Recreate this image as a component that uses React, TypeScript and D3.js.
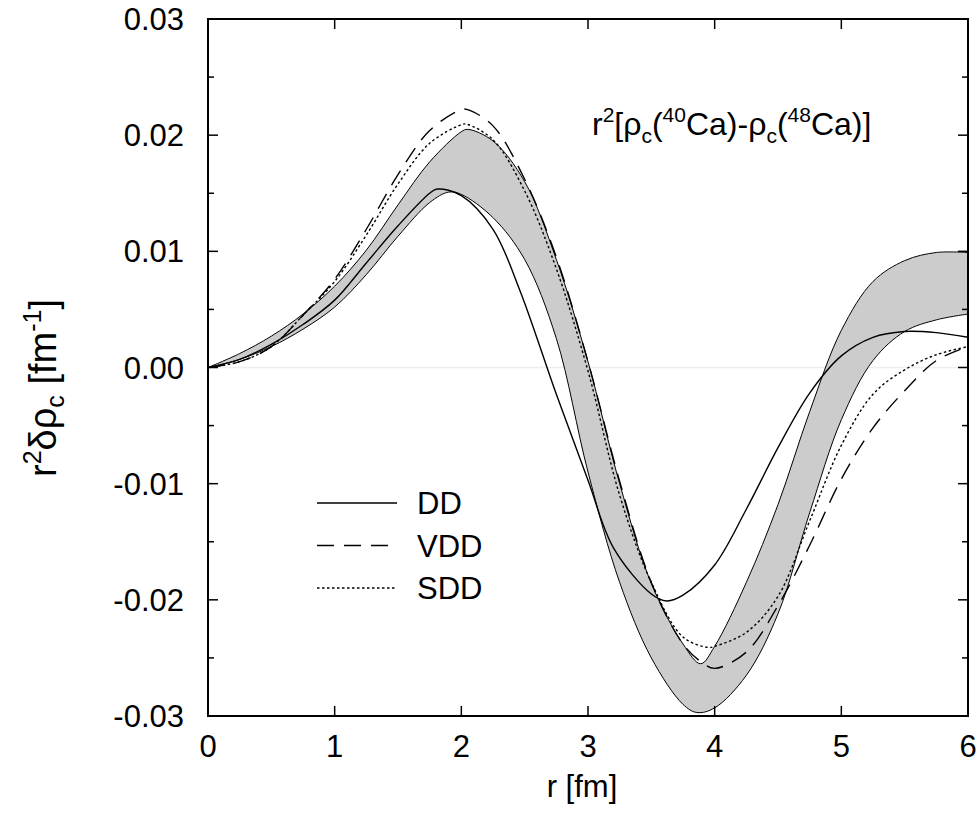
import React from "react";
import * as d3 from "d3";

const W = 979, H = 817;
const margin = { left: 208, right: 11, top: 19, bottom: 101 };

// radius samples (fm) and curve values
const rBand = [0, 0.25, 0.5, 0.75, 1, 1.25, 1.5, 1.75, 2, 2.05, 2.25, 2.5, 2.75, 3, 3.25, 3.5, 3.75, 3.89, 4, 4.25, 4.5, 4.75, 5, 5.25, 5.5, 5.75, 6];
const bandUpper = [0, 0.0012, 0.0027, 0.0046, 0.0070, 0.0101, 0.0140, 0.0177, 0.0203, 0.0205, 0.0195, 0.0160, 0.0093, 0.0005, -0.0100, -0.0186, -0.0238, -0.0255, -0.0240, -0.0185, -0.0118, -0.0038, 0.0032, 0.0074, 0.0092, 0.0099, 0.0099];
const rLow = [0, 0.25, 0.5, 0.75, 1, 1.25, 1.5, 1.75, 1.9, 2, 2.25, 2.5, 2.75, 3, 3.25, 3.5, 3.75, 3.86, 4, 4.25, 4.5, 4.75, 5, 5.25, 5.5, 5.75, 6];
const bandLower = [0, 0.0007, 0.0018, 0.0033, 0.0052, 0.0080, 0.0113, 0.0142, 0.0151, 0.0149, 0.0129, 0.0093, 0.0025, -0.0090, -0.0185, -0.0250, -0.0290, -0.0297, -0.0293, -0.0265, -0.0212, -0.0125, -0.0045, 0.0006, 0.0031, 0.0041, 0.0046];

const rDD = [0, 0.25, 0.5, 0.75, 1, 1.25, 1.5, 1.75, 1.81, 2, 2.25, 2.46, 2.75, 3, 3.2, 3.5, 3.62, 3.75, 4, 4.25, 4.5, 4.75, 5, 5.25, 5.5, 5.75, 6];
const dd = [0, 0.0007, 0.0020, 0.0037, 0.0058, 0.0090, 0.0122, 0.0150, 0.01536, 0.0148, 0.0119, 0.0067, -0.0023, -0.0097, -0.0155, -0.0195, -0.0201, -0.0196, -0.0170, -0.0122, -0.0069, -0.0022, 0.0010, 0.0026, 0.0031, 0.0030, 0.0026];

const rVDD = [0, 0.25, 0.5, 0.75, 1, 1.25, 1.5, 1.75, 2, 2.05, 2.25, 2.5, 2.75, 3, 3.25, 3.5, 3.75, 3.9, 4, 4.25, 4.5, 4.75, 5, 5.25, 5.5, 5.75, 6];
const vdd = [0, 0.0005, 0.0018, 0.0045, 0.0076, 0.0119, 0.0166, 0.0204, 0.0222, 0.0222, 0.0208, 0.0162, 0.0095, 0.0005, -0.0098, -0.0185, -0.0238, -0.0254, -0.0259, -0.0245, -0.0205, -0.0153, -0.0096, -0.0052, -0.0020, 0.0006, 0.0018];

const rSDD = [0, 0.25, 0.5, 0.75, 1, 1.25, 1.5, 1.75, 2, 2.04, 2.25, 2.5, 2.75, 3, 3.25, 3.5, 3.75, 3.95, 4, 4.25, 4.5, 4.75, 5, 5.25, 5.5, 5.75, 6];
const sdd = [0, 0.0005, 0.0018, 0.0045, 0.0074, 0.0114, 0.0158, 0.0193, 0.0209, 0.02095, 0.0196, 0.0152, 0.0085, -0.0003, -0.0110, -0.0185, -0.0232, -0.0241, -0.0240, -0.0228, -0.0197, -0.0132, -0.0067, -0.0023, -0.0002, 0.0011, 0.0018];

const xTicks = [0, 1, 2, 3, 4, 5, 6];
const yTicks = [0.03, 0.02, 0.01, 0, -0.01, -0.02, -0.03];
const yMinor = [0.025, 0.015, 0.005, -0.005, -0.015, -0.025];
const legend = [
  { name: "DD", dash: "none" },
  { name: "VDD", dash: "17,10" },
  { name: "SDD", dash: "2.5,2.5" },
];

const font = "Liberation Sans, Arial, Helvetica, sans-serif";

export default function App() {
  const x = d3.scaleLinear().domain([0, 6]).range([margin.left, W - margin.right]);
  const y = d3.scaleLinear().domain([-0.03, 0.03]).range([H - margin.bottom, margin.top]);

  const pts = (rs: number[], vs: number[]) => rs.map((r, i) => [r, vs[i]] as [number, number]);
  const line = d3.line<[number, number]>().x(d => x(d[0])).y(d => y(d[1])).curve(d3.curveCatmullRom.alpha(0.5));

  const up = pts(rBand, bandUpper);
  const lo = pts(rLow, bandLower);
  // band polygon: upper edge forward, lower edge back
  const bandPath = line(up) + "L" + line([...lo].reverse())!.slice(1) + "Z";

  const x0 = x(0), x1 = x(6), y0 = y(-0.03), y1 = y(0.03);

  return (
    <svg width={W} height={H} style={{ position: "absolute", left: 0, top: 0, background: "#fff" }} fontFamily={font}>
      <defs>
        <clipPath id="clip"><rect x={x0} y={y1} width={x1 - x0} height={y0 - y1} /></clipPath>
      </defs>
      <line x1={x0} x2={x1} y1={y(0)} y2={y(0)} stroke="#eeeeee" strokeWidth={1.5} />
      <g clipPath="url(#clip)">
        <path d={bandPath} fill="#cccccc" stroke="none" />
        <path d={line(up)!} fill="none" stroke="#000" strokeWidth={1} />
        <path d={line(lo)!} fill="none" stroke="#000" strokeWidth={1} />
        <path d={line(pts(rDD, dd))!} fill="none" stroke="#000" strokeWidth={1.4} />
        <path d={line(pts(rVDD, vdd))!} fill="none" stroke="#000" strokeWidth={1.4} strokeDasharray="17,10" />
        <path d={line(pts(rSDD, sdd))!} fill="none" stroke="#000" strokeWidth={1.4} strokeDasharray="2.5,2.5" />
      </g>

      {/* frame */}
      <rect x={x0} y={y1} width={x1 - x0} height={y0 - y1} fill="none" stroke="#000" strokeWidth={2} />

      {xTicks.map(t => (
        <g key={"x" + t}>
          <line x1={x(t)} x2={x(t)} y1={y0} y2={y0 - 10} stroke="#000" strokeWidth={1.5} />
          <line x1={x(t)} x2={x(t)} y1={y1} y2={y1 + 10} stroke="#000" strokeWidth={1.5} />
          <text x={x(t)} y={y0 + 41} textAnchor="middle" fontSize={31}>{t}</text>
        </g>
      ))}
      {yTicks.map(t => (
        <g key={"y" + t}>
          <line x1={x0} x2={x0 + 10} y1={y(t)} y2={y(t)} stroke="#000" strokeWidth={1.5} />
          <line x1={x1} x2={x1 - 10} y1={y(t)} y2={y(t)} stroke="#000" strokeWidth={1.5} />
          <text x={x0 - 24} y={y(t) + 11} textAnchor="end" fontSize={31}>{d3.format(".2f")(t).replace("−", "-")}</text>
        </g>
      ))}
      {yMinor.map(t => (
        <g key={"m" + t}>
          <line x1={x0} x2={x0 + 6} y1={y(t)} y2={y(t)} stroke="#000" strokeWidth={1.5} />
          <line x1={x1} x2={x1 - 6} y1={y(t)} y2={y(t)} stroke="#000" strokeWidth={1.5} />
        </g>
      ))}

      {/* axis titles */}
      <text x={(x0 + x1) / 2 - 6} y={797} textAnchor="middle" fontSize={31}>r [fm]</text>
      <text transform={`translate(56,388) rotate(-90)`} textAnchor="middle" fontSize={38}>
        r<tspan dy={-15} fontSize={25}>2</tspan>
        <tspan dy={15}>δρ</tspan><tspan dy={8} fontSize={25}>c</tspan>
        <tspan dy={-8}> [fm</tspan><tspan dy={-15} fontSize={25}>-1</tspan><tspan dy={15}>]</tspan>
      </text>

      {/* annotation */}
      <text x={592} y={135} fontSize={32}>
        r<tspan dy={-13} fontSize={21}>2</tspan>
        <tspan dy={13}>[ρ</tspan><tspan dy={8} fontSize={21}>c</tspan>
        <tspan dy={-8}>(</tspan><tspan dy={-13} fontSize={21}>40</tspan>
        <tspan dy={13}>Ca)-ρ</tspan><tspan dy={8} fontSize={21}>c</tspan>
        <tspan dy={-8}>(</tspan><tspan dy={-13} fontSize={21}>48</tspan>
        <tspan dy={13}>Ca)]</tspan>
      </text>

      {/* legend */}
      {legend.map((l, i) => (
        <g key={l.name}>
          <line x1={317} x2={397} y1={503 + i * 42.5} y2={503 + i * 42.5} stroke="#000" strokeWidth={1.4} strokeDasharray={l.dash} />
          <text x={417} y={503 + i * 42.5 + 11} fontSize={31}>{l.name}</text>
        </g>
      ))}
    </svg>
  );
}
